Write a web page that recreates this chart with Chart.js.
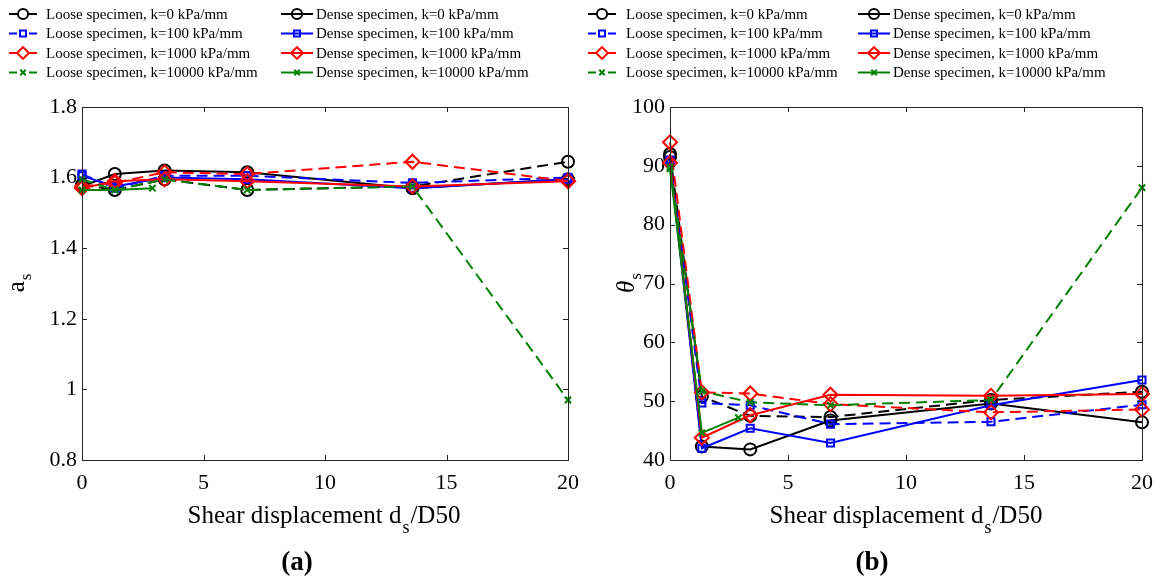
<!DOCTYPE html>
<html lang="en">
<head>
<meta charset="UTF-8">
<title>Shear displacement – a_s and theta_s</title>
<script src="https://cdn.jsdelivr.net/npm/chart.js@4.4.0/dist/chart.umd.min.js"></script>
<style>
  html, body { margin: 0; padding: 0; background: #fff; }
  #wrap { position: relative; width: 1164px; height: 579px; }
  #wrap canvas { position: absolute; top: 0; }
</style>
</head>
<body>
<div id="wrap">
  <canvas id="chartA" width="582" height="579" style="left:0"></canvas>
  <canvas id="chartB" width="582" height="579" style="left:582px"></canvas>
</div>
<script>
// shear displacement d_s/D50
const xMain = [0, 1.35, 3.4, 6.8, 13.6, 20];
const xDense10000 = [0, 1.35, 2.9];

const seriesLabels = [
  'Loose specimen, k=0 kPa/mm', 'Dense specimen, k=0 kPa/mm',
  'Loose specimen, k=100 kPa/mm', 'Dense specimen, k=100 kPa/mm',
  'Loose specimen, k=1000 kPa/mm', 'Dense specimen, k=1000 kPa/mm',
  'Loose specimen, k=10000 kPa/mm', 'Dense specimen, k=10000 kPa/mm'
];

// (a) a_s
const aLoose0 = [1.58, 1.565, 1.595, 1.565, 1.575, 1.645];
const aDense0 = [1.575, 1.61, 1.62, 1.615, 1.57, 1.595];
const aLoose100 = [1.61, 1.57, 1.605, 1.605, 1.585, 1.60];
const aDense100 = [1.605, 1.575, 1.60, 1.595, 1.57, 1.595];
const aLoose1000 = [1.575, 1.585, 1.615, 1.61, 1.645, 1.59];
const aDense1000 = [1.57, 1.59, 1.595, 1.59, 1.575, 1.59];
const aLoose10000 = [1.595, 1.565, 1.595, 1.565, 1.575, 0.97];
const aDense10000 = [1.565, 1.565, 1.57];

// (b) theta_s
const tLoose0 = [92, 50.8, 47.5, 47.3, 50.2, 51.6];
const tDense0 = [91.5, 42.3, 41.8, 46.7, 49.6, 46.4];
const tLoose100 = [91, 49.7, 49.3, 46.1, 46.5, 49.4];
const tDense100 = [90.8, 42, 45.4, 42.9, 49.3, 53.6];
const tLoose1000 = [94, 51.5, 51.3, 49.5, 48.1, 48.6];
const tDense1000 = [90.5, 43.8, 47.6, 51.1, 50.9, 51.2];
const tLoose10000 = [89.8, 51.7, 49.8, 49.3, 50.2, 86.3];
const tDense10000 = [89.5, 44.6, 47.2];

const xTicks = [0, 5, 10, 15, 20];
const aTicks = [0.8, 1, 1.2, 1.4, 1.6, 1.8];
const tTicks = [40, 50, 60, 70, 80, 90, 100];

const colors = ['#000000', '#000000', '#0000ff', '#0000ff', '#ff0000', '#ff0000', '#008000', '#008000'];
const markers = ['circle', 'circle', 'rect', 'rect', 'rectRot', 'rectRot', 'crossRot', 'crossRot'];
const markerSize = { circle: 6, rect: 5, rectRot: 7, crossRot: 4.5 };

const SERIF = '"Liberation Serif", "Times New Roman", serif';
const AXIS = '#262626';

function makeDatasets(ys) {
  return ys.map((vals, i) => {
    const xs = i === 7 ? xDense10000 : xMain;
    const dashed = i % 2 === 0;
    return {
      label: seriesLabels[i],
      data: vals.map((v, j) => ({ x: xs[j], y: v })),
      borderColor: colors[i],
      backgroundColor: 'transparent',
      borderWidth: 2,
      borderDash: dashed ? [11, 6] : [],
      pointStyle: markers[i],
      pointRadius: markerSize[markers[i]],
      pointBorderWidth: 2,
      pointBorderColor: colors[i],
      pointBackgroundColor: 'transparent',
      tension: 0,
      clip: false,
      order: -i
    };
  });
}

// box, inward ticks, legend, axis titles, panel label
const decor = {
  id: 'decor',
  afterDraw(chart, args, o) {
    const ctx = chart.ctx;
    const { left, right, top, bottom } = chart.chartArea;
    const xs = chart.scales.x, ys = chart.scales.y;
    ctx.save();
    ctx.strokeStyle = AXIS;
    ctx.lineWidth = 1;
    ctx.strokeRect(left + 0.5, top + 0.5, right - left, bottom - top);
    ctx.beginPath();
    o.xTicks.forEach(v => {
      const p = Math.round(xs.getPixelForValue(v)) + 0.5;
      ctx.moveTo(p, bottom); ctx.lineTo(p, bottom - 5);
      ctx.moveTo(p, top); ctx.lineTo(p, top + 5);
    });
    o.yTicks.forEach(v => {
      const p = Math.round(ys.getPixelForValue(v)) + 0.5;
      ctx.moveTo(left, p); ctx.lineTo(left + 5, p);
      ctx.moveTo(right, p); ctx.lineTo(right - 5, p);
    });
    ctx.stroke();

    // legend, two columns, row-major
    ctx.font = '15px ' + SERIF;
    ctx.textBaseline = 'middle';
    ctx.textAlign = 'left';
    chart.data.datasets.forEach((ds, i) => {
      const col = o.legendCols[i % 2];
      const y = 14 + Math.floor(i / 2) * 19.5;
      ctx.strokeStyle = ds.borderColor;
      ctx.lineWidth = 2;
      ctx.setLineDash(i % 2 === 0 ? [8, 12] : []);
      ctx.beginPath();
      ctx.moveTo(col.x0, y); ctx.lineTo(col.x1, y);
      ctx.stroke();
      ctx.setLineDash([]);
      ctx.fillStyle = 'transparent';
      Chart.helpers.drawPoint(ctx, {
        pointStyle: ds.pointStyle, radius: ds.pointRadius * 0.85,
        rotation: 0, borderWidth: 2
      }, (col.x0 + col.x1) / 2, y);
      ctx.fillStyle = '#000';
      ctx.fillText(ds.label, col.tx, y + 1);
    });

    // y title with subscript
    ctx.fillStyle = '#000';
    ctx.save();
    ctx.translate(o.yTitle.x, (top + bottom) / 2);
    ctx.rotate(-Math.PI / 2);
    ctx.textAlign = 'left';
    ctx.textBaseline = 'alphabetic';
    ctx.font = o.yTitle.font;
    const mw = ctx.measureText(o.yTitle.main).width;
    ctx.font = '17px ' + SERIF;
    const sw = ctx.measureText('s').width;
    const x0 = -(mw + sw) / 2;
    ctx.font = o.yTitle.font;
    ctx.fillText(o.yTitle.main, x0, 0);
    ctx.font = '17px ' + SERIF;
    ctx.fillText('s', x0 + mw + 1, 7);
    ctx.restore();

    // x title "Shear displacement d_s/D50"
    ctx.textBaseline = 'alphabetic';
    ctx.textAlign = 'left';
    const big = '25px ' + SERIF, small = '18px ' + SERIF;
    ctx.font = big;
    const p1 = 'Shear displacement d', p3 = '/D50';
    const w1 = ctx.measureText(p1).width, w3 = ctx.measureText(p3).width;
    ctx.font = small;
    const w2 = ctx.measureText('s').width;
    let tx = o.xTitleX - (w1 + w2 + w3 + 2) / 2;
    const ty = 523;
    ctx.font = big; ctx.fillText(p1, tx, ty);
    ctx.font = small; ctx.fillText('s', tx + w1 + 1, ty + 10);
    ctx.font = big; ctx.fillText(p3, tx + w1 + w2 + 2, ty);

    // panel label
    ctx.font = 'bold 27px ' + SERIF;
    ctx.textAlign = 'center';
    ctx.fillText(o.panelLabel, o.panelLabelX, 570);
    ctx.restore();
  }
};

function makeChart(id, ys, yMin, yMax, yStep, yTicks, area, decorOpts) {
  const el = document.getElementById(id);
  return new Chart(el, {
    type: 'line',
    data: { datasets: makeDatasets(ys) },
    options: {
      responsive: false,
      animation: false,
      devicePixelRatio: 1,
      layout: { padding: { left: 0, right: el.width - area.right, top: area.top, bottom: 0 } },
      plugins: { legend: { display: false }, tooltip: { enabled: false }, decor: decorOpts },
      scales: {
        x: {
          type: 'linear', min: 0, max: 20,
          grid: { display: false, drawTicks: false },
          border: { display: false },
          ticks: { stepSize: 5, padding: 10, color: '#000', font: { family: SERIF, size: 22 } },
          afterFit: s => { s.height = el.height - area.bottom; s.paddingLeft = 0; s.paddingRight = 0; }
        },
        y: {
          min: yMin, max: yMax,
          grid: { display: false, drawTicks: false },
          border: { display: false },
          ticks: {
            stepSize: yStep, padding: 5, color: '#000', font: { family: SERIF, size: 22 },
            callback: v => String(Number(v.toFixed(1)))
          },
          afterFit: s => { s.width = area.left; s.paddingTop = 0; s.paddingBottom = 0; }
        }
      }
    },
    plugins: [decor]
  });
}

makeChart('chartA',
  [aLoose0, aDense0, aLoose100, aDense100, aLoose1000, aDense1000, aLoose10000, aDense10000],
  0.8, 1.8, 0.2, aTicks,
  { left: 82, right: 568, top: 107, bottom: 460 },
  {
    xTicks: xTicks, yTicks: aTicks,
    legendCols: [{ x0: 9, x1: 37, tx: 46 }, { x0: 281, x1: 313, tx: 316 }],
    yTitle: { x: 24, main: 'a', font: '25px ' + SERIF },
    xTitleX: 324, panelLabel: '(a)', panelLabelX: 297
  });

makeChart('chartB',
  [tLoose0, tDense0, tLoose100, tDense100, tLoose1000, tDense1000, tLoose10000, tDense10000],
  40, 100, 10, tTicks,
  { left: 88, right: 560, top: 107, bottom: 460 },
  {
    xTicks: xTicks, yTicks: tTicks,
    legendCols: [{ x0: 6, x1: 34, tx: 44 }, { x0: 276, x1: 308, tx: 311 }],
    yTitle: { x: 52, main: 'θ', font: 'italic 25px ' + SERIF },
    xTitleX: 324, panelLabel: '(b)', panelLabelX: 290
  });
</script>
</body>
</html>
